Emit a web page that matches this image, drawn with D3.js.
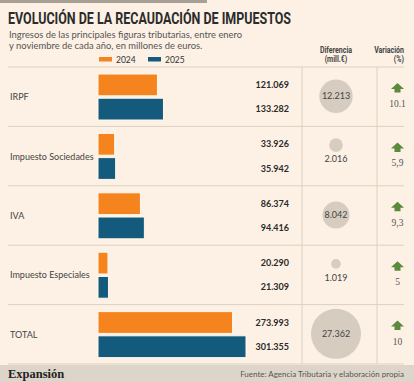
<!DOCTYPE html>
<html><head><meta charset="utf-8">
<script src="https://cdn.jsdelivr.net/npm/d3@7"></script>
<style>
html,body{margin:0;padding:0;background:#fcf1e4;}
svg{display:block;}
</style></head>
<body>
<script>
const categories = ["IRPF","Impuesto Sociedades","IVA","Impuesto Especiales","TOTAL"];
const years = ["2024","2025"];
const values2024 = [121.069, 33.926, 86.374, 20.290, 273.993];
const values2025 = [133.282, 35.942, 94.416, 21.309, 301.355];
const labels2024 = ["121.069","33.926","86.374","20.290","273.993"];
const labels2025 = ["133.282","35.942","94.416","21.309","301.355"];
const differences = [12.213, 2.016, 8.042, 1.019, 27.362];
const diffLabels = ["12.213","2.016","8.042","1.019","27.362"];
const variationLabels = ["10.1","5,9","9,3","5","10"];

const W = 414, H = 382;
const bg = "#fcf1e4", orange = "#f5841f", blue = "#135a7c";
const svg = d3.select("body").append("svg").attr("width", W).attr("height", H);
svg.append("rect").attr("width", W).attr("height", H).attr("fill", bg);

// top grey strip
svg.append("rect").attr("x",0).attr("y",0).attr("width",207).attr("height",3).attr("fill","#a89f95");

// title
svg.append("text").attr("x",8).attr("y",24)
  .attr("font-family","Roboto, 'Liberation Sans', sans-serif").attr("font-weight","700")
  .attr("font-size",17).attr("fill","#2b2b2b")
  .attr("textLength",283).attr("lengthAdjust","spacingAndGlyphs")
  .text("EVOLUCIÓN DE LA RECAUDACIÓN DE IMPUESTOS");

const sub = ["Ingresos de las principales figuras tributarias, entre enero","y noviembre de cada año, en millones de euros."];
sub.forEach((s,i)=>{
  svg.append("text").attr("x",9).attr("y",38+i*11)
    .attr("font-family","Lato, 'Open Sans', sans-serif").attr("font-size",9.4).attr("fill","#555")
    .text(s);
});

// legend
const legColors = {"2024": orange, "2025": blue};
const legX = {"2024": 99, "2025": 148};
years.forEach(y=>{
  svg.append("rect").attr("x",legX[y]).attr("y",57).attr("width",13).attr("height",4.5).attr("fill",legColors[y]);
  svg.append("text").attr("x",legX[y]+17).attr("y",63)
    .attr("font-family","Lato, sans-serif").attr("font-size",8.5).attr("fill","#333").text(y);
});

// headers
const hdrFont = "Roboto, sans-serif";
[["Diferencia",53],["(mill.€)",62]].forEach(([t,y])=>{
  svg.append("text").attr("x",336).attr("y",y).attr("text-anchor","middle")
    .attr("font-family",hdrFont).attr("font-weight","700").attr("font-size",8.8).attr("fill","#444")
    .attr("transform",`translate(336,0) scale(0.8,1) translate(-336,0)`).text(t);
});
[["Variación",53],["(%)",62]].forEach(([t,y])=>{
  svg.append("text").attr("x",404).attr("y",y).attr("text-anchor","end")
    .attr("font-family",hdrFont).attr("font-weight","700").attr("font-size",8.8).attr("fill","#444")
    .attr("transform",`translate(404,0) scale(0.8,1) translate(-404,0)`).text(t);
});

// scales
const yRow = d3.scaleBand().domain(categories).range([67, 364]);
const ySub = d3.scaleBand().domain(years).range([7, 53]).paddingInner(0.1);
const x = d3.scaleLinear().domain([0, 301.355]).range([98, 246]);
const r = d3.scaleSqrt().domain([0, 27.362]).range([0, 25]);

// grid lines
const gridColor = "#ddd0c0";
categories.forEach(c=>{
  svg.append("line").attr("x1",8).attr("x2",404).attr("y1",yRow(c)).attr("y2",yRow(c))
    .attr("stroke",gridColor).attr("stroke-width",1);
});
svg.append("line").attr("x1",8).attr("x2",404).attr("y1",364).attr("y2",364).attr("stroke",gridColor);
[302,377].forEach(vx=>{
  svg.append("line").attr("x1",vx).attr("x2",vx).attr("y1",67).attr("y2",364)
    .attr("stroke",gridColor).attr("stroke-width",1);
});

const rows = categories.map((c,i)=>({c, v:[values2024[i], values2025[i]], l:[labels2024[i], labels2025[i]],
  d:differences[i], dl:diffLabels[i], vl:variationLabels[i], i}));

const g = svg.selectAll("g.row").data(rows).join("g").attr("class","row")
  .attr("transform", d=>`translate(0,${yRow(d.c)})`);

// category labels
g.append("text").attr("x",10).attr("y",yRow.bandwidth()/2+3.5)
  .attr("font-family","Lato, 'Open Sans', sans-serif").attr("font-size",9).attr("fill","#444")
  .text(d=>d.c);

// bars
years.forEach((yr,k)=>{
  g.append("rect").attr("x",x(0)).attr("y",ySub(yr))
    .attr("width",d=>x(d.v[k])-x(0)).attr("height",ySub.bandwidth())
    .attr("fill",legColors[yr]).attr("stroke","#fff7ee").attr("stroke-width",1);
  g.append("text").attr("x",289).attr("y",ySub(yr)+ySub.bandwidth()/2+3.2)
    .attr("text-anchor","end").attr("font-family","Lato, sans-serif").attr("font-weight","700")
    .attr("font-size",9).attr("fill","#2a2a2a").text(d=>d.l[k]);
});

// circles
const cx = 336;
g.each(function(d){
  const sel = d3.select(this);
  const rr = r(d.d);
  const mid = yRow.bandwidth()/2;
  if (rr > 12) {
    sel.append("circle").attr("cx",cx).attr("cy",mid-0.5).attr("r",rr).attr("fill","#d6ccc0");
    sel.append("text").attr("x",cx).attr("y",mid+2.5).attr("text-anchor","middle")
      .attr("font-family","Lato, sans-serif").attr("font-size",9).attr("fill","#444").text(d.dl);
  } else {
    sel.append("circle").attr("cx",cx).attr("cy",mid-11).attr("r",rr).attr("fill","#d6ccc0");
    sel.append("text").attr("x",cx).attr("y",mid+6).attr("text-anchor","middle")
      .attr("font-family","Lato, sans-serif").attr("font-size",9).attr("fill","#444").text(d.dl);
  }
});

// arrows
const ax = 397.5;
g.append("path")
  .attr("d", `M${ax},16 L${ax+6.5},22 L${ax+3},22 L${ax+3},25.5 L${ax-3},25.5 L${ax-3},22 L${ax-6.5},22 Z`)
  .attr("fill","#5b8a3c");
g.append("text").attr("x",ax).attr("y",40).attr("text-anchor","middle")
  .attr("font-family","'Liberation Serif', 'DejaVu Serif', serif").attr("font-size",9.5).attr("fill","#555")
  .text(d=>d.vl);

// footer
svg.append("rect").attr("x",0).attr("y",365).attr("width",W).attr("height",17).attr("fill","#ddd5ca");
svg.append("text").attr("x",8).attr("y",378)
  .attr("font-family","'Liberation Serif', 'DejaVu Serif', serif").attr("font-weight","700")
  .attr("font-size",12.5).attr("fill","#222").text("Expansión");
svg.append("text").attr("x",404).attr("y",377).attr("text-anchor","end")
  .attr("font-family","Lato, sans-serif").attr("font-size",8).attr("fill","#555")
  .text("Fuente: Agencia Tributaria y elaboración propia");
</script>
</body></html>
